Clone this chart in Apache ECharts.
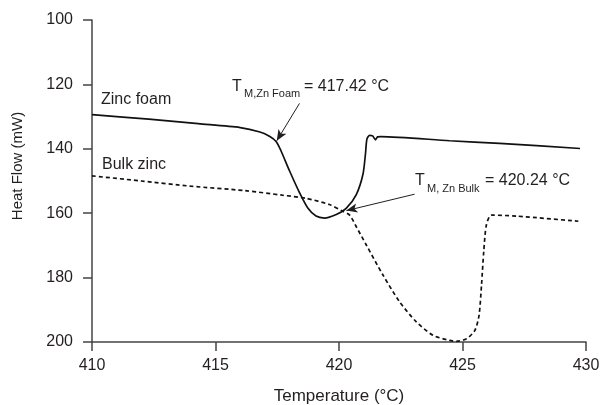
<!DOCTYPE html>
<html>
<head>
<meta charset="utf-8">
<script src="https://cdn.jsdelivr.net/npm/echarts@6/dist/echarts.min.js"></script>
<style>html,body{margin:0;padding:0;background:#fff}#c{width:600px;height:405px}</style>
</head>
<body>
<div id="c"></div>
<script>
// Temperature (°C) and heat flow (mW)
const foamT  = [410.0, 412.3, 414.3, 416.0, 416.8, 417.2, 417.46, 417.65, 418.0, 418.4, 418.73, 419.07, 419.41, 419.89, 420.29, 420.7, 420.97, 421.07, 421.13, 421.24, 421.36, 421.48, 421.56, 421.7, 424.48, 426.5, 429.76];
const foamHF = [129.4, 130.8, 132.2, 133.4, 134.8, 136.2, 137.8, 140.6, 146.9, 153.6, 158.3, 160.9, 161.5, 160.4, 158.5, 154.2, 147.9, 141.7, 137.0, 135.8, 136.0, 137.2, 136.3, 136.2, 137.5, 138.3, 139.9];
const bulkT  = [410.0, 412.0, 414.0, 416.2, 417.7, 418.67, 419.61, 420.15, 420.43, 420.7, 421.1, 421.78, 422.45, 423.13, 423.8, 424.48, 424.75, 425.16, 425.5, 425.67, 425.77, 425.86, 425.97, 426.17, 427.19, 429.69];
const bulkHF = [148.4, 150.0, 151.6, 153.0, 154.4, 155.4, 157.3, 159.4, 160.6, 164.2, 169.8, 179.2, 187.5, 193.75, 197.9, 199.5, 199.8, 199.0, 196.4, 191.7, 182.3, 171.9, 163.5, 160.6, 160.9, 162.5];
const xTicks = [410, 415, 420, 425, 430];
const yTicks = [100, 120, 140, 160, 180, 200];
const seriesNames = ['Zinc foam', 'Bulk zinc'];
const foamMelt = '417.42';
const bulkMelt = '420.24';
// annotation arrows (data coords): [start, tip]
const foamArrow = [[418.40, 125.9], [417.48, 137.5]];
const bulkArrow = [[423.06, 154.1], [420.30, 159.2]];

const pairs = (xs, ys) => xs.map((x, i) => [x, ys[i]]);
const ink = '#231f20';
const FF = 'Liberation Sans, Arial, sans-serif';

const chart = echarts.init(document.getElementById('c'), null, {renderer: 'canvas'});
const arrowML = (a) => ({
  silent: true,
  symbol: ['none', 'arrow'],
  symbolSize: [7, 11],
  label: {show: false},
  lineStyle: {color: ink, width: 1, type: 'solid'},
  itemStyle: {color: ink},
  emphasis: {disabled: true},
  data: [[{coord: a[0]}, {coord: a[1]}]]
});
chart.setOption({
  animation: false,
  backgroundColor: '#fff',
  grid: {left: 92, right: 14, top: 20, bottom: 63, outerBoundsMode: 'none', containLabel: false},
  xAxis: {
    type: 'value', min: xTicks[0], max: xTicks[xTicks.length - 1], interval: 5,
    name: 'Temperature (°C)', nameLocation: 'middle', nameGap: 46,
    nameTextStyle: {fontFamily: FF, fontSize: 17, color: ink},
    axisLine: {show: true, onZero: false, lineStyle: {color: '#444', width: 1.5}},
    axisTick: {show: true, inside: false, length: 9, lineStyle: {color: '#444', width: 1.5}},
    axisLabel: {fontFamily: FF, fontSize: 16, color: ink, margin: 16},
    splitLine: {show: false}
  },
  yAxis: {
    type: 'value', inverse: true, min: yTicks[0], max: yTicks[yTicks.length - 1], interval: 20,
    axisLine: {show: true, onZero: false, lineStyle: {color: '#444', width: 1.5}},
    axisTick: {show: true, inside: false, length: 9, lineStyle: {color: '#444', width: 1.5}},
    axisLabel: {fontFamily: FF, fontSize: 16, color: ink, margin: 19},
    splitLine: {show: false}
  },
  series: [
    {
      name: seriesNames[0], type: 'line', data: pairs(foamT, foamHF),
      showSymbol: false, smooth: 0.25,
      lineStyle: {color: '#111', width: 1.7, type: 'solid'},
      markLine: arrowML(foamArrow)
    },
    {
      name: seriesNames[1], type: 'line', data: pairs(bulkT, bulkHF),
      showSymbol: false, smooth: 0.25,
      lineStyle: {color: '#111', width: 1.7, type: [4, 3]},
      markLine: arrowML(bulkArrow)
    }
  ],
  graphic: [
    {type: 'text', x: 18, y: 166, rotation: Math.PI / 2, style: {text: 'Heat Flow (mW)', fontFamily: FF, fontSize: 15, fill: ink, align: 'center', verticalAlign: 'middle'}},
    {type: 'text', x: 101, y: 100, style: {text: seriesNames[0], fontFamily: FF, fontSize: 16, fill: ink, align: 'left', verticalAlign: 'middle'}},
    {type: 'text', x: 102, y: 165, style: {text: seriesNames[1], fontFamily: FF, fontSize: 16, fill: ink, align: 'left', verticalAlign: 'middle'}},
    {type: 'text', x: 232, y: 87, style: {text: 'T', fontFamily: FF, fontSize: 16, fill: ink, align: 'left', verticalAlign: 'middle'}},
    {type: 'text', x: 244, y: 94, style: {text: 'M,Zn Foam', fontFamily: FF, fontSize: 11, fill: ink, align: 'left', verticalAlign: 'middle'}},
    {type: 'text', x: 304, y: 87, style: {text: '= ' + foamMelt + ' °C', fontFamily: FF, fontSize: 16, fill: ink, align: 'left', verticalAlign: 'middle'}},
    {type: 'text', x: 415, y: 181, style: {text: 'T', fontFamily: FF, fontSize: 16, fill: ink, align: 'left', verticalAlign: 'middle'}},
    {type: 'text', x: 427, y: 189, style: {text: 'M, Zn Bulk', fontFamily: FF, fontSize: 11, fill: ink, align: 'left', verticalAlign: 'middle'}},
    {type: 'text', x: 485, y: 181, style: {text: '= ' + bulkMelt + ' °C', fontFamily: FF, fontSize: 16, fill: ink, align: 'left', verticalAlign: 'middle'}}
  ]
});
</script>
</body>
</html>
